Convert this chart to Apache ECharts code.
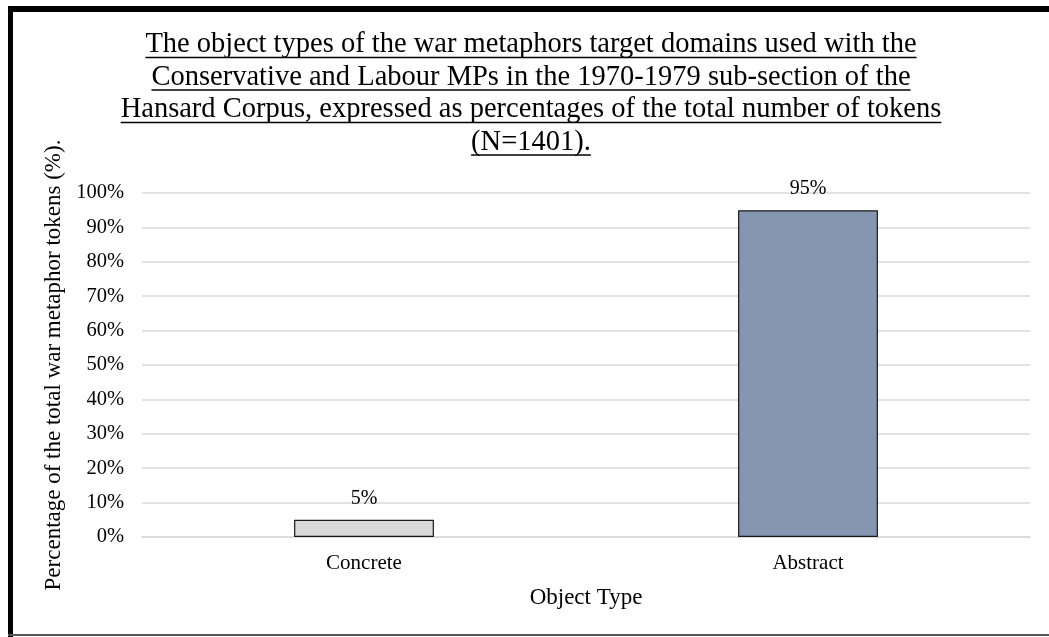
<!DOCTYPE html>
<html>
<head>
<meta charset="utf-8">
<script src="https://cdn.jsdelivr.net/npm/echarts@6/dist/echarts.min.js"></script>
<style>
  html, body { margin: 0; padding: 0; background: #fff; }
  #chart { width: 1049px; height: 637px; }
</style>
</head>
<body>
<div id="chart"></div>
<script>
// Object types of war-metaphor target domains, 1970-1979 Hansard sub-section
const categories = ['Concrete', 'Abstract'];
const percentages = [5, 95];
const barColors = ['#d9d9d9', '#8496b0'];
const titleLines = [
  'The object types of the war metaphors target domains used with the',
  'Conservative and Labour MPs in the 1970-1979 sub-section of the',
  'Hansard Corpus, expressed as percentages of the total number of tokens',
  '(N=1401).'
];
const yTicks = [0, 10, 20, 30, 40, 50, 60, 70, 80, 90, 100];

const FONT = "'Liberation Serif', 'Times New Roman', serif";
const TITLE_SIZE = 28.5;
const TITLE_CX = 531;
const TITLE_TOP = 45;
const TITLE_LH = 32.5;

// measure title lines so each can get its own underline
const ctx = document.createElement('canvas').getContext('2d');
ctx.font = TITLE_SIZE + 'px ' + FONT;

const graphics = [
  // frame: heavy top and left rules, thin bottom rule
  { type: 'rect', shape: { x: 8, y: 6, width: 1041, height: 6 }, style: { fill: '#000' }, silent: true },
  { type: 'rect', shape: { x: 8, y: 6, width: 5, height: 631 }, style: { fill: '#000' }, silent: true },
  { type: 'rect', shape: { x: 8, y: 634, width: 1041, height: 2 }, style: { fill: '#555' }, silent: true }
];
titleLines.forEach((line, i) => {
  const w = ctx.measureText(line).width;
  const cy = TITLE_TOP + i * TITLE_LH;
  graphics.push({
    type: 'text',
    style: {
      text: line, x: TITLE_CX, y: cy, align: 'center', verticalAlign: 'middle',
      font: TITLE_SIZE + 'px ' + FONT, fill: '#000'
    },
    silent: true
  });
  graphics.push({
    type: 'line',
    shape: { x1: TITLE_CX - w / 2, y1: cy + 12.5, x2: TITLE_CX + w / 2, y2: cy + 12.5 },
    style: { stroke: '#000', lineWidth: 1.4 },
    silent: true
  });
});

const chart = echarts.init(document.getElementById('chart'), null, { renderer: 'canvas' });
chart.setOption({
  backgroundColor: '#fff',
  animation: false,
  textStyle: { fontFamily: FONT },
  grid: { left: 142, right: 19, top: 193, bottom: 100 },
  xAxis: {
    type: 'category',
    data: categories,
    name: 'Object Type',
    nameLocation: 'middle',
    nameGap: 49,
    nameTextStyle: { fontSize: 23, color: '#000', fontFamily: FONT },
    axisLine: { show: true, lineStyle: { color: '#d9d9d9', width: 1.5 } },
    axisTick: { show: false },
    axisLabel: { fontSize: 21, color: '#000', margin: 16, fontFamily: FONT }
  },
  yAxis: {
    type: 'value',
    min: 0,
    max: 100,
    interval: 10,
    name: 'Percentage of the total war metaphor tokens (%).',
    nameLocation: 'middle',
    nameGap: 75,
    nameTextStyle: { fontSize: 23, color: '#000', fontFamily: FONT },
    axisLine: { show: false },
    axisTick: { show: false },
    axisLabel: {
      fontSize: 20.5, color: '#000', margin: 18, fontFamily: FONT,
      formatter: v => (yTicks.indexOf(v) >= 0 ? v + '%' : '')
    },
    splitLine: { show: true, lineStyle: { color: '#d9d9d9', width: 1.5 } }
  },
  series: [{
    type: 'bar',
    data: percentages.map((v, i) => ({
      value: v,
      itemStyle: { color: barColors[i], borderColor: '#1a1a1a', borderWidth: 1.2 }
    })),
    barWidth: '31.5%',
    label: {
      show: true,
      position: 'top',
      distance: 11,
      formatter: p => p.value + '%',
      fontSize: 20,
      color: '#000',
      fontFamily: FONT
    }
  }],
  graphic: graphics
});
</script>
</body>
</html>
